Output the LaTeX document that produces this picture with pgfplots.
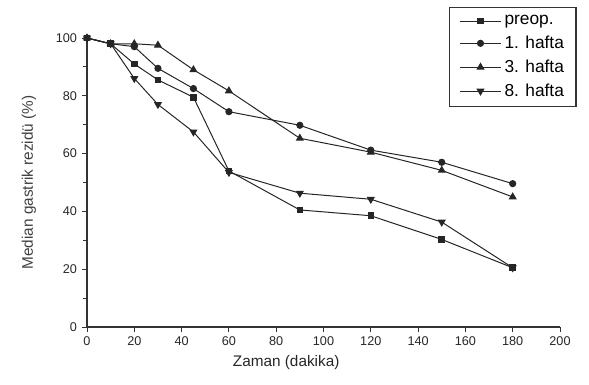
\documentclass[border=0pt]{standalone}
\usepackage{pgfplots}
\pgfplotsset{compat=1.18}
\usepackage{fontspec}
\setmainfont{Liberation Sans}
\begin{document}
\begin{tikzpicture}
\begin{axis}[
  scale only axis,
  width=354.75pt, height=216.75pt,
  xmin=0, xmax=200, ymin=0, ymax=100,
  axis lines*=left,
  axis line style={black!80, line width=0.9pt},
  xtick={0,20,...,200}, ytick={0,20,...,100},
  minor y tick num=1,
  tick align=outside,
  major tick length=4pt, minor tick length=3pt,
  tick style={black!80, line width=0.7pt},
  /pgf/number format/assume math mode=true,
  ticklabel style={font=\fontsize{9.5}{11}\selectfont, text=black!85},
  xlabel={Zaman (dakika)},
  ylabel={Median gastrik rezidü (\%)},
  xlabel style={font=\fontsize{11.5}{13}\selectfont, text=black!85, yshift=0pt, xshift=-28pt},
  ylabel style={font=\fontsize{11.5}{13}\selectfont, text=black!75, yshift=8pt},
  legend style={at={(1.035,1.108)}, anchor=north east, draw=black!80, line width=0.9pt,
    font=\fontsize{13}{15}\selectfont, row sep=3pt, inner xsep=7pt, inner ysep=4pt},
  legend cell align=left,
  legend image code/.code={\draw[mark repeat=2,mark phase=2] plot coordinates {(0cm,0cm) (0.55cm,0cm) (1.1cm,0cm)};},
  every axis plot/.append style={black!85, line width=0.75pt, mark options={solid}},
  mark size=2.3pt,
]
\addplot[mark=square*, mark size=2.1pt] coordinates {(0,100) (10,98) (20,91) (30,85.5) (45,79.5) (60,54) (90,40.5) (120,38.5) (150,30.3) (180,20.5)};
\addlegendentry{preop.}
\addplot[mark=*] coordinates {(0,100) (10,98) (20,97) (30,89.5) (45,82.5) (60,74.5) (90,69.8) (120,61.2) (150,57) (180,49.6)};
\addlegendentry{1. hafta}
\addplot[mark=triangle*, mark size=2.8pt] coordinates {(0,100) (10,98) (20,98) (30,97.5) (45,89) (60,81.7) (90,65.3) (120,60.5) (150,54.2) (180,45)};
\addlegendentry{3. hafta}
\addplot[mark=triangle*, mark size=2.8pt, mark options={rotate=180}] coordinates {(0,100) (10,98) (20,86) (30,77) (45,67.5) (60,53.5) (90,46.3) (120,44.2) (150,36.3) (180,20.5)};
\addlegendentry{8. hafta}
\end{axis}
\path[use as bounding box] ([shift={(-65.25pt,-43.5pt)}]current axis.south west) rectangle ([shift={(376.5pt,245.25pt)}]current axis.south west);
\end{tikzpicture}
\end{document}
